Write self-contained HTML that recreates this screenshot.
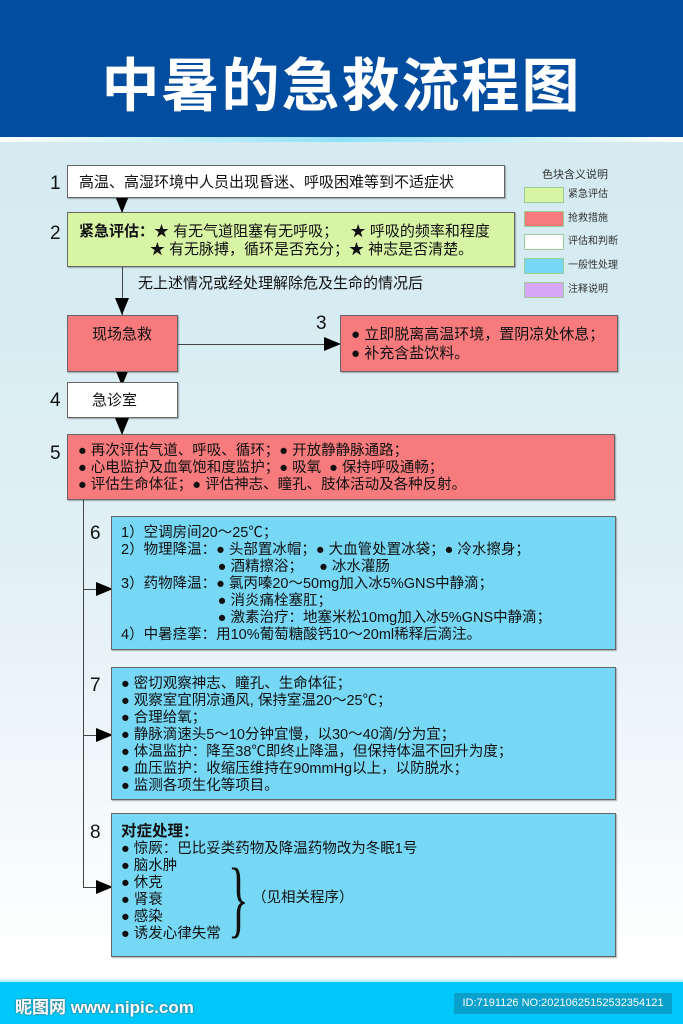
<!DOCTYPE html>
<html style="width:683px;height:1024px;overflow:hidden"><head><meta charset="utf-8"><style>
*{margin:0;padding:0;box-sizing:border-box}
body{width:683px;height:1024px;position:relative;overflow:hidden;font-family:"Liberation Sans","Noto Sans CJK SC",sans-serif;color:#111;
background:linear-gradient(180deg,#d4eaf0 0px,#d6ecf2 300px,#e4f1f6 600px,#f3f9fb 800px,#fff 960px)}
.a{position:absolute}
.box{position:absolute;border:1.5px solid #666;box-shadow:1px 1px 1px rgba(0,0,0,.3)}
.w{background:#fff}.g{background:#d8f5a6}.r{background:#f77a7c}.b{background:#77d8f5}
.n{position:absolute;font-size:19px}
.t{font-size:14.5px;line-height:17px;white-space:nowrap}
.vl{position:absolute;background:#444;width:1.2px}
.hl{position:absolute;background:#444;height:1.2px}
.ad{position:absolute;width:0;height:0;border-left:7px solid transparent;border-right:7px solid transparent;border-top:17px solid #000}
.ar{position:absolute;width:0;height:0;border-top:7px solid transparent;border-bottom:7px solid transparent;border-left:17px solid #000}
.sw{position:absolute;left:524px;width:40px;height:16px;border:1px solid #9c9}
.lg{position:absolute;left:568px;font-size:10px;line-height:12px;color:#333}
</style></head><body>
<div class="a" style="left:0;top:0;width:683px;height:137px;background:#034da0"></div>
<div class="a" style="left:0;top:137px;width:683px;height:5px;background:linear-gradient(90deg,#fff,#8fe0f8 50%,#fff)"></div>
<div class="a" style="left:0;top:46px;width:683px;text-align:center;color:#fff;font-size:58px;font-weight:bold;letter-spacing:2px;line-height:70px;font-family:'Noto Sans CJK SC',sans-serif">中暑的急救流程图</div>

<!-- legend -->
<div class="a" style="left:542px;top:166px;font-size:11px;color:#333">色块含义说明</div>
<div class="sw" style="top:187px;background:#d8f5a6"></div><div class="lg" style="top:189px">紧急评估</div>
<div class="sw" style="top:211px;background:#f77a7c"></div><div class="lg" style="top:213px">抢救措施</div>
<div class="sw" style="top:234px;background:#fff"></div><div class="lg" style="top:236px">评估和判断</div>
<div class="sw" style="top:258px;background:#77d8f5"></div><div class="lg" style="top:260px">一般性处理</div>
<div class="sw" style="top:282px;background:#d7a6f5"></div><div class="lg" style="top:284px">注释说明</div>

<!-- lines -->
<div class="vl" style="left:122px;top:198px;height:120px"></div>
<div class="ad" style="left:115px;top:196px"></div>
<div class="ad" style="left:115px;top:298px"></div>
<div class="hl" style="left:178px;top:344px;width:150px"></div>
<div class="ar" style="left:324px;top:337px"></div>
<div class="vl" style="left:122px;top:372px;height:12px"></div>
<div class="ad" style="left:115px;top:369px"></div>
<div class="vl" style="left:122px;top:418px;height:16px"></div>
<div class="ad" style="left:115px;top:418px"></div>
<div class="vl" style="left:83px;top:500px;height:387px"></div>
<div class="hl" style="left:83px;top:589px;width:20px"></div><div class="ar" style="left:96px;top:582px"></div>
<div class="hl" style="left:83px;top:735px;width:20px"></div><div class="ar" style="left:96px;top:728px"></div>
<div class="hl" style="left:83px;top:887px;width:20px"></div><div class="ar" style="left:96px;top:880px"></div>

<!-- numbers -->
<div class="n" style="left:50px;top:173px">1</div>
<div class="n" style="left:50px;top:223px">2</div>
<div class="n" style="left:316px;top:313px">3</div>
<div class="n" style="left:50px;top:390px">4</div>
<div class="n" style="left:50px;top:443px">5</div>
<div class="n" style="left:90px;top:523px">6</div>
<div class="n" style="left:90px;top:675px">7</div>
<div class="n" style="left:90px;top:822px">8</div>

<div class="box w" style="left:67px;top:165px;width:438px;height:33px"><div class="t a" style="left:11px;top:8px;font-size:15px">高温、高湿环境中人员出现昏迷、呼吸困难等到不适症状</div></div>
<div class="box g" style="left:67px;top:212px;width:448px;height:55px"><div class="t a" style="left:11px;top:10px;font-size:15px;line-height:18px"><b>紧急评估：</b>★ 有无气道阻塞有无呼吸；&nbsp;&nbsp;&nbsp;★ 呼吸的频率和程度<br>&nbsp;&nbsp;&nbsp;&nbsp;&nbsp;&nbsp;&nbsp;&nbsp;&nbsp;&nbsp;&nbsp;&nbsp;&nbsp;&nbsp;&nbsp;&nbsp;&nbsp;★ 有无脉搏，循环是否充分；★ 神志是否清楚。</div></div>
<div class="a t" style="left:138px;top:275px;font-size:15px">无上述情况或经处理解除危及生命的情况后</div>
<div class="box r" style="left:67px;top:315px;width:111px;height:57px"><div class="t a" style="left:24px;top:10px;font-size:15px">现场急救</div></div>
<div class="box r" style="left:340px;top:315px;width:278px;height:57px"><div class="t a" style="left:10px;top:9px;font-size:15px;line-height:19px">● 立即脱离高温环境，置阴凉处休息；<br>● 补充含盐饮料。</div></div>
<div class="box w" style="left:67px;top:382px;width:111px;height:36px"><div class="t a" style="left:24px;top:9px;font-size:15px">急诊室</div></div>
<div class="box r" style="left:67px;top:434px;width:548px;height:66px"><div class="t a" style="left:10px;top:8px;line-height:17px">● 再次评估气道、呼吸、循环；● 开放静静脉通路；<br>● 心电监护及血氧饱和度监护；● 吸氧&nbsp; ● 保持呼吸通畅；<br>● 评估生命体征；● 评估神志、瞳孔、肢体活动及各种反射。</div></div>
<div class="box b" style="left:111px;top:516px;width:505px;height:134px"><div class="t a" style="left:9px;top:8px;line-height:17px">1）空调房间20～25℃；<br>2）物理降温：● 头部置冰帽；● 大血管处置冰袋；● 冷水擦身；<br>&nbsp;&nbsp;&nbsp;&nbsp;&nbsp;&nbsp;&nbsp;&nbsp;&nbsp;&nbsp;&nbsp;&nbsp;&nbsp;&nbsp;&nbsp;&nbsp;&nbsp;&nbsp;&nbsp;&nbsp;&nbsp;&nbsp;&nbsp;&nbsp;● 酒精擦浴；&nbsp;&nbsp;&nbsp;&nbsp;● 冰水灌肠<br>3）药物降温：● 氯丙嗪20～50mg加入冰5%GNS中静滴；<br>&nbsp;&nbsp;&nbsp;&nbsp;&nbsp;&nbsp;&nbsp;&nbsp;&nbsp;&nbsp;&nbsp;&nbsp;&nbsp;&nbsp;&nbsp;&nbsp;&nbsp;&nbsp;&nbsp;&nbsp;&nbsp;&nbsp;&nbsp;&nbsp;● 消炎痛栓塞肛；<br>&nbsp;&nbsp;&nbsp;&nbsp;&nbsp;&nbsp;&nbsp;&nbsp;&nbsp;&nbsp;&nbsp;&nbsp;&nbsp;&nbsp;&nbsp;&nbsp;&nbsp;&nbsp;&nbsp;&nbsp;&nbsp;&nbsp;&nbsp;&nbsp;● 激素治疗：地塞米松10mg加入冰5%GNS中静滴；<br>4）中暑痉挛：用10%葡萄糖酸钙10～20ml稀释后滴注。</div></div>
<div class="box b" style="left:111px;top:667px;width:505px;height:133px"><div class="t a" style="left:9px;top:8px;line-height:17px">● 密切观察神志、瞳孔、生命体征；<br>● 观察室宜阴凉通风, 保持室温20～25℃；<br>● 合理给氧；<br>● 静脉滴速头5～10分钟宜慢，以30～40滴/分为宜；<br>● 体温监护：降至38℃即终止降温，但保持体温不回升为度；<br>● 血压监护：收缩压维持在90mmHg以上，以防脱水；<br>● 监测各项生化等项目。</div></div>
<div class="box b" style="left:111px;top:813px;width:505px;height:144px"><div class="t a" style="left:9px;top:9px;line-height:17px"><b style="font-size:15.5px">对症处理：</b><br>● 惊厥：巴比妥类药物及降温药物改为冬眠1号<br>● 脑水肿<br>● 休克<br>● 肾衰<br>● 感染<br>● 诱发心律失常</div>
<div class="a" style="left:116px;top:34px;font-size:86px;line-height:100px;transform:scaleX(0.5);transform-origin:left top;font-family:'Liberation Serif',serif">}</div>
<div class="a t" style="left:140px;top:76px">（见相关程序）</div></div>

<!-- footer -->
<div class="a" style="left:0;top:978px;width:683px;height:4px;background:linear-gradient(180deg,#fff,#a8ecff)"></div>
<div class="a" style="left:0;top:982px;width:683px;height:42px;background:#00c8fa"></div>
<div class="a" style="left:15px;top:993px;color:#fff;font-size:17px;font-weight:bold;text-shadow:0 0 2px #555">昵图网 www.nipic.com</div>
<div class="a" style="left:454px;top:993px;width:218px;height:21px;background:#0aa0cc;color:#fff;font-size:11px;line-height:21px;text-align:center">ID:7191126 NO:20210625152532354121</div>
</body></html>
